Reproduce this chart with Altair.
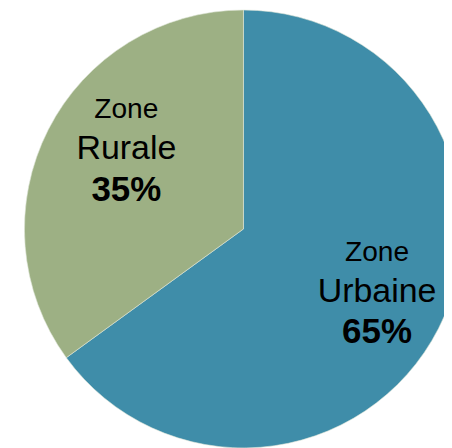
import altair as alt
import pandas as pd

zones = ["Urbaine", "Rurale"]
shares = [65, 35]
colors = ["#3F8DA9", "#9DB084"]
order = [0, 1]

df = pd.DataFrame({"zone": zones, "share": shares, "o": order})
df["pct"] = df["share"].astype(str) + "%"
df["line1"] = "Zone"

cx, cy = 243, 221

base = alt.Chart(df).transform_stack(
    stack="share", groupby=[], as_=["s0", "s1"], sort=[alt.SortField("o")]
).transform_calculate(mid="(datum.s0 + datum.s1) / 2").encode(
    x=alt.value(cx),
    y=alt.value(cy),
)

theta_scale = alt.Scale(domain=[0, 100])

pie = base.mark_arc(stroke="#dfe6d8", strokeWidth=0.6).encode(
    theta=alt.Theta("s0:Q", scale=theta_scale),
    theta2="s1:Q",
    color=alt.Color("zone:N", scale=alt.Scale(domain=zones, range=colors), legend=None),
    radius=alt.value(226),
)

font = "Liberation Sans"
layers = [pie]
for z, ddx, ddy in [("Urbaine", 6, -3), ("Rurale", 11, -16)]:
    b = base.transform_filter(alt.datum.zone == z).encode(
        theta=alt.Theta("mid:Q", scale=theta_scale)
    )
    layers.append(b.mark_text(radius=148, font=font, fontSize=29, dx=ddx, dy=ddy - 40, color="black").encode(text="line1:N"))
    layers.append(b.mark_text(radius=148, font=font, fontSize=35, dx=ddx, dy=ddy, color="black").encode(text="zone:N"))
    layers.append(b.mark_text(radius=148, font=font, fontSize=36, fontWeight="bold", dx=ddx, dy=ddy + 43, color="black").encode(text="pct:N"))

chart = alt.layer(*layers).properties(
    width=450, height=440, padding=0,
    autosize=alt.AutoSizeParams(type="none"),
).configure_view(stroke=None)

chart.save("out.html", embed_options={"renderer": "svg", "actions": False})
